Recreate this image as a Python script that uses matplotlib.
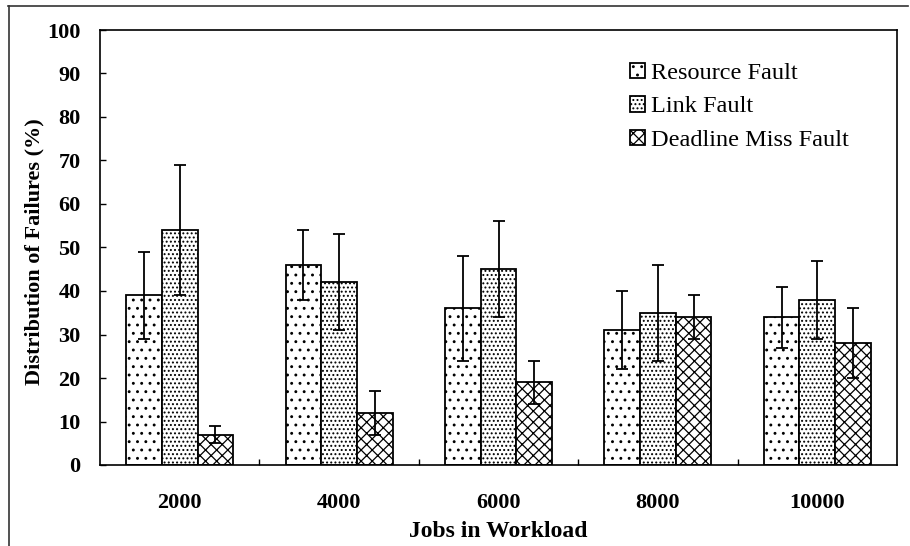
import numpy as np
import matplotlib
matplotlib.use("Agg")
import matplotlib.pyplot as pl
from matplotlib.lines import Line2D

workloads = ["2000", "4000", "6000", "8000", "10000"]
series_names = ["Resource Fault", "Link Fault", "Deadline Miss Fault"]
resource = [39, 46, 36, 31, 34]
resource_err = [10, 8, 12, 9, 7]
link = [54, 42, 45, 35, 38]
link_err = [15, 11, 11, 11, 9]
deadline = [7, 12, 19, 34, 28]
deadline_err = [2, 5, 5, 5, 8]
y_ticks = list(range(0, 101, 10))

pl.rcParams["font.family"] = ["Liberation Serif", "DejaVu Serif"]
pl.rcParams["hatch.linewidth"] = 0.9
pl.rcParams["hatch.color"] = "black"

W, H = 910, 546
fig = pl.figure(figsize=(W / 100, H / 100), dpi=100)
ax = fig.add_axes([100 / W, (H - 465) / H, 797 / W, 435 / H])

x = np.arange(len(workloads))
width = 0.224
hatches = ["..", "....", "xxx"]
values = [resource, link, deadline]
errors = [resource_err, link_err, deadline_err]

for k, (vals, errs, hatch, name) in enumerate(zip(values, errors, hatches, series_names)):
    ax.bar(x + (k - 1) * width, vals, width, color="white", edgecolor="black",
           linewidth=1.3, hatch=hatch, label=name, zorder=2)
    ax.errorbar(x + (k - 1) * width, vals, yerr=errs, fmt="none", ecolor="black",
                elinewidth=1.3, capsize=4, capthick=1.3, zorder=3)

ax.set_xlim(-0.5, len(workloads) - 0.5)
ax.set_ylim(0, 100)
ax.set_yticks(y_ticks)
ax.set_xticks(x)
ax.set_xticklabels(workloads)
ax.set_xticks(x[:-1] + 0.5, minor=True)
ax.tick_params(axis="x", which="major", length=0, pad=20)
ax.tick_params(axis="x", which="minor", direction="in", length=4, width=1)
ax.tick_params(axis="y", direction="in", length=4, width=1, pad=14)
for lab in ax.get_xticklabels() + ax.get_yticklabels():
    lab.set_fontsize(16)
    lab.set_fontweight("bold")
for sp in ax.spines.values():
    sp.set_linewidth(1.2)

ax.set_xlabel("Jobs in Workload", fontsize=17, fontweight="bold", labelpad=6)
ax.set_ylabel("Distribution of Failures (%)", fontsize=16, fontweight="bold")
ax.yaxis.set_label_coords(-0.07, 0.49)

leg = ax.legend(loc="upper right", bbox_to_anchor=(0.952, 0.947), frameon=False,
                fontsize=17.5, handlelength=0.6, handleheight=0.6, handletextpad=0.25,
                labelspacing=0.5, borderaxespad=0)

# outer frame of the original figure
fig.add_artist(Line2D([8 / W, 908 / W], [1 - 6 / H, 1 - 6 / H], color="#333333",
                      linewidth=1.2, transform=fig.transFigure))
fig.add_artist(Line2D([9 / W, 9 / W], [1 - 6 / H, 0], color="#333333",
                      linewidth=1.2, transform=fig.transFigure))

fig.savefig("out.png", dpi=100)
